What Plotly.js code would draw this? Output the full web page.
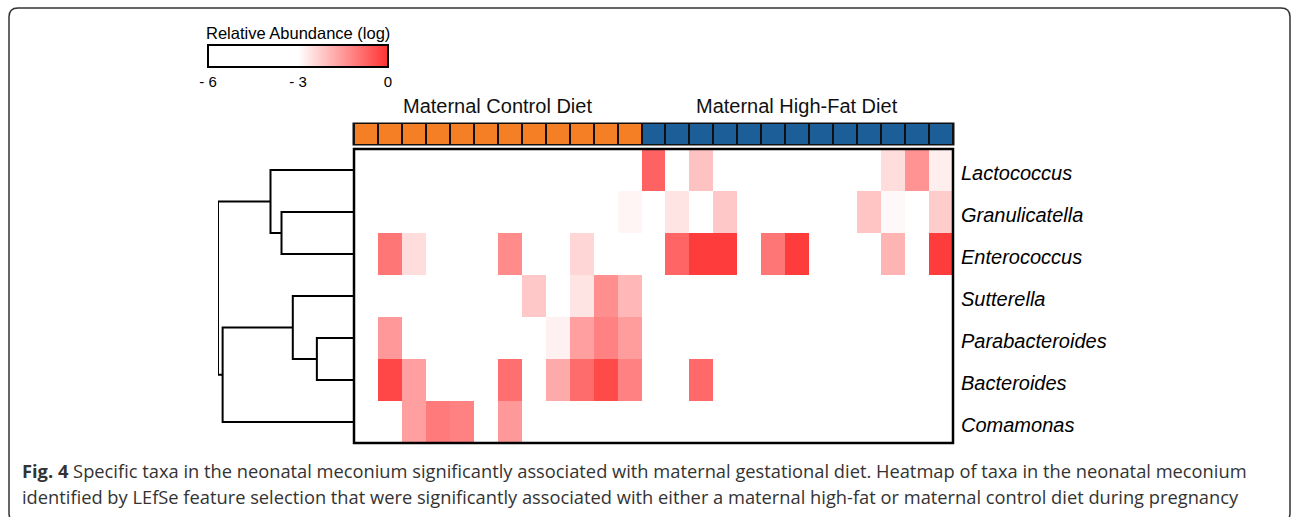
<!DOCTYPE html>
<html>
<head>
<meta charset="utf-8">
<script src="https://cdn.plot.ly/plotly-3.0.1.min.js"></script>
<style>html,body{margin:0;padding:0;background:#fff;}#chart{width:1292px;height:517px;}</style>
</head>
<body>
<div id="chart"></div>
<script>
// ---- data ----
const taxa = ["Lactococcus", "Granulicatella", "Enterococcus", "Sutterella", "Parabacteroides", "Bacteroides", "Comamonas"];
const sampleGroups = [0,0,0,0,0,0,0,0,0,0,0,0, 1,1,1,1,1,1,1,1,1,1,1,1,1]; // 0 = control, 1 = high-fat
const groupNames = ["Maternal Control Diet", "Maternal High-Fat Diet"];
const lactococcus     = [-6,-6,-6,-6,-6,-6,-6,-6,-6,-6,-6,-6,-0.7,-6,-2.1,-6,-6,-6,-6,-6,-6,-6,-2.5,-1.4,-2.75];
const granulicatella  = [-6,-6,-6,-6,-6,-6,-6,-6,-6,-6,-6,-2.85,-6,-2.6,-6,-2.2,-6,-6,-6,-6,-6,-2.15,-2.9,-6,-2.25];
const enterococcus    = [-6,-1.0,-2.5,-6,-6,-6,-1.3,-6,-6,-2.4,-6,-6,-6,-0.75,-0.15,-0.15,-6,-1.0,-0.15,-6,-6,-6,-1.9,-6,-0.15];
const sutterella      = [-6,-6,-6,-6,-6,-6,-6,-2.2,-6,-2.6,-1.35,-1.95,-6,-6,-6,-6,-6,-6,-6,-6,-6,-6,-6,-6,-6];
const parabacteroides = [-6,-1.5,-6,-6,-6,-6,-6,-6,-2.8,-1.6,-1.15,-1.55,-6,-6,-6,-6,-6,-6,-6,-6,-6,-6,-6,-6,-6];
const bacteroides     = [-6,-0.3,-1.6,-6,-6,-6,-0.9,-6,-1.75,-0.85,-0.35,-1.15,-6,-6,-0.8,-6,-6,-6,-6,-6,-6,-6,-6,-6,-6];
const comamonas       = [-6,-6,-1.6,-1.05,-1.15,-6,-1.5,-6,-6,-6,-6,-6,-6,-6,-6,-6,-6,-6,-6,-6,-6,-6,-6,-6,-6];
// dendrogram linkage: [left node, right node, height]; leaves 0..6, new nodes numbered from 7
const linkage = [[1,2,0.533],[0,7,0.614],[4,5,0.273],[3,9,0.450],[6,10,0.966],[8,11,1.0]];
const cbTitle = "Relative Abundance (log)";
const cbTickVals = [-6,-3,0];
const cbTickText = ["- 6","- 3","0"];
const caption1 = "<b>Fig. 4</b> Specific taxa in the neonatal meconium significantly associated with maternal gestational diet. Heatmap of taxa in the neonatal meconium";
const caption2 = "identified by LEfSe feature selection that were significantly associated with either a maternal high-fat or maternal control diet during pregnancy";

// ---- build ----
const W = 1292, H = 517;
const px = v => v / W, py = v => 1 - v / H;
const zMat = [lactococcus, granulicatella, enterococcus, sutterella, parabacteroides, bacteroides, comamonas];
const cols = sampleGroups.map((_, i) => i);
const rows = taxa.map((_, i) => i);
const FONT = 'Liberation Sans, Arial';

const heat = {
  type: 'heatmap', x: cols, y: rows, z: zMat, xaxis: 'x', yaxis: 'y',
  zmin: -6, zmax: 0,
  colorscale: [[0,'#ffffff'],[0.5,'#ffffff'],[1,'rgb(255,50,50)']],
  hoverinfo: 'skip',
  colorbar: {
    orientation: 'h', x: px(208), xanchor: 'left', y: py(45), yanchor: 'top',
    lenmode: 'pixels', len: 180, thickness: 22, xpad: 0, ypad: 0,
    outlinewidth: 2, outlinecolor: '#000',
    tickvals: cbTickVals, ticktext: cbTickText, ticks: '',
    tickfont: {family: FONT, size: 15, color: '#000'}
  }
};

const groupBar = {
  type: 'heatmap', x: cols, y: [0], z: [sampleGroups], xaxis: 'x', yaxis: 'y2',
  zmin: 0, zmax: 1, showscale: false, xgap: 2, hoverinfo: 'skip',
  colorscale: [[0,'#F57F25'],[0.5,'#F57F25'],[0.5,'#1B5E98'],[1,'#1B5E98']]
};

// dendrogram segments
const nodeY = rows.slice(), nodeH = rows.map(() => 0);
const dx = [], dy = [];
linkage.forEach(([a, b, h]) => {
  dx.push(nodeH[a], h, h, nodeH[b], null);
  dy.push(nodeY[a], nodeY[a], nodeY[b], nodeY[b], null);
  nodeY.push((nodeY[a] + nodeY[b]) / 2);
  nodeH.push(h);
});
const dendro = {
  type: 'scatter', mode: 'lines', x: dx, y: dy, xaxis: 'x3', yaxis: 'y',
  line: {color: '#000', width: 2}, hoverinfo: 'skip', showlegend: false, cliponaxis: false
};

// rounded frame
const r = 9, L = 9, T = 8, R = 1290, B = 522;
const framePath = `M ${px(L)},${py(T + r)} Q ${px(L)},${py(T)} ${px(L + r)},${py(T)} L ${px(R - r)},${py(T)} Q ${px(R)},${py(T)} ${px(R)},${py(T + r)} L ${px(R)},${py(B - r)} Q ${px(R)},${py(B)} ${px(R - r)},${py(B)} L ${px(L + r)},${py(B)} Q ${px(L)},${py(B)} ${px(L)},${py(B - r)} Z`;

const groupCenters = groupNames.map((_, g) => {
  const idx = cols.filter(i => sampleGroups[i] === g);
  return (idx[0] + idx[idx.length - 1]) / 2;
});

const layout = {
  width: W, height: H, margin: {l: 0, r: 0, t: 0, b: 0},
  paper_bgcolor: '#fff', plot_bgcolor: '#fff', showlegend: false,
  xaxis: {domain: [px(354), px(953)], range: [-0.5, cols.length - 0.5], showticklabels: false, ticks: '', showgrid: false, zeroline: false, fixedrange: true},
  yaxis: {domain: [py(443), py(149)], range: [taxa.length - 0.5, -0.5], side: 'right', anchor: 'x',
          tickvals: rows, ticktext: taxa.map(t => '<i>' + t + '</i>'), ticks: '', ticklabelstandoff: 7, ticklabelshift: -3,
          tickfont: {family: FONT, size: 20, color: '#000'}, showgrid: false, zeroline: false},
  yaxis2: {domain: [py(144), py(124)], range: [-0.5, 0.5], anchor: 'x', showticklabels: false, ticks: '', showgrid: false, zeroline: false},
  xaxis3: {domain: [px(218), px(354)], range: [1.0, 0], anchor: 'y', showticklabels: false, ticks: '', showgrid: false, zeroline: false},
  shapes: [
    {type: 'rect', xref: 'x domain', yref: 'y2 domain', x0: 0, x1: 1, y0: 0, y1: 1, fillcolor: '#111', line: {color: '#111', width: 3}, layer: 'below'},
    {type: 'rect', xref: 'x domain', yref: 'y domain', x0: 0, x1: 1, y0: 0, y1: 1, line: {color: '#000', width: 2.5}, layer: 'above'},
    {type: 'path', xref: 'paper', yref: 'paper', path: framePath, line: {color: '#333', width: 1.5}, layer: 'above'}
  ],
  annotations: [
    {text: cbTitle, x: px(298), xref: 'paper', y: py(33), yref: 'paper', xanchor: 'center', yanchor: 'middle', showarrow: false,
      font: {family: FONT, size: 16.5, color: '#000'}},
    ...groupNames.map((g, i) => ({text: g, x: groupCenters[i], xref: 'x', y: py(106), yref: 'paper', showarrow: false, xanchor: 'center', yanchor: 'middle',
      font: {family: FONT, size: 20, color: '#111'}})),
    {text: caption1, x: px(20), xref: 'paper', y: py(470), yref: 'paper', xanchor: 'left', yanchor: 'middle', showarrow: false,
      font: {family: 'Open Sans', size: 18.3, color: '#333'}},
    {text: caption2, x: px(20), xref: 'paper', y: py(496), yref: 'paper', xanchor: 'left', yanchor: 'middle', showarrow: false,
      font: {family: 'Open Sans', size: 18.3, color: '#333'}}
  ]
};

Plotly.newPlot('chart', [heat, groupBar, dendro], layout, {displayModeBar: false, staticPlot: true});
</script>
</body>
</html>
